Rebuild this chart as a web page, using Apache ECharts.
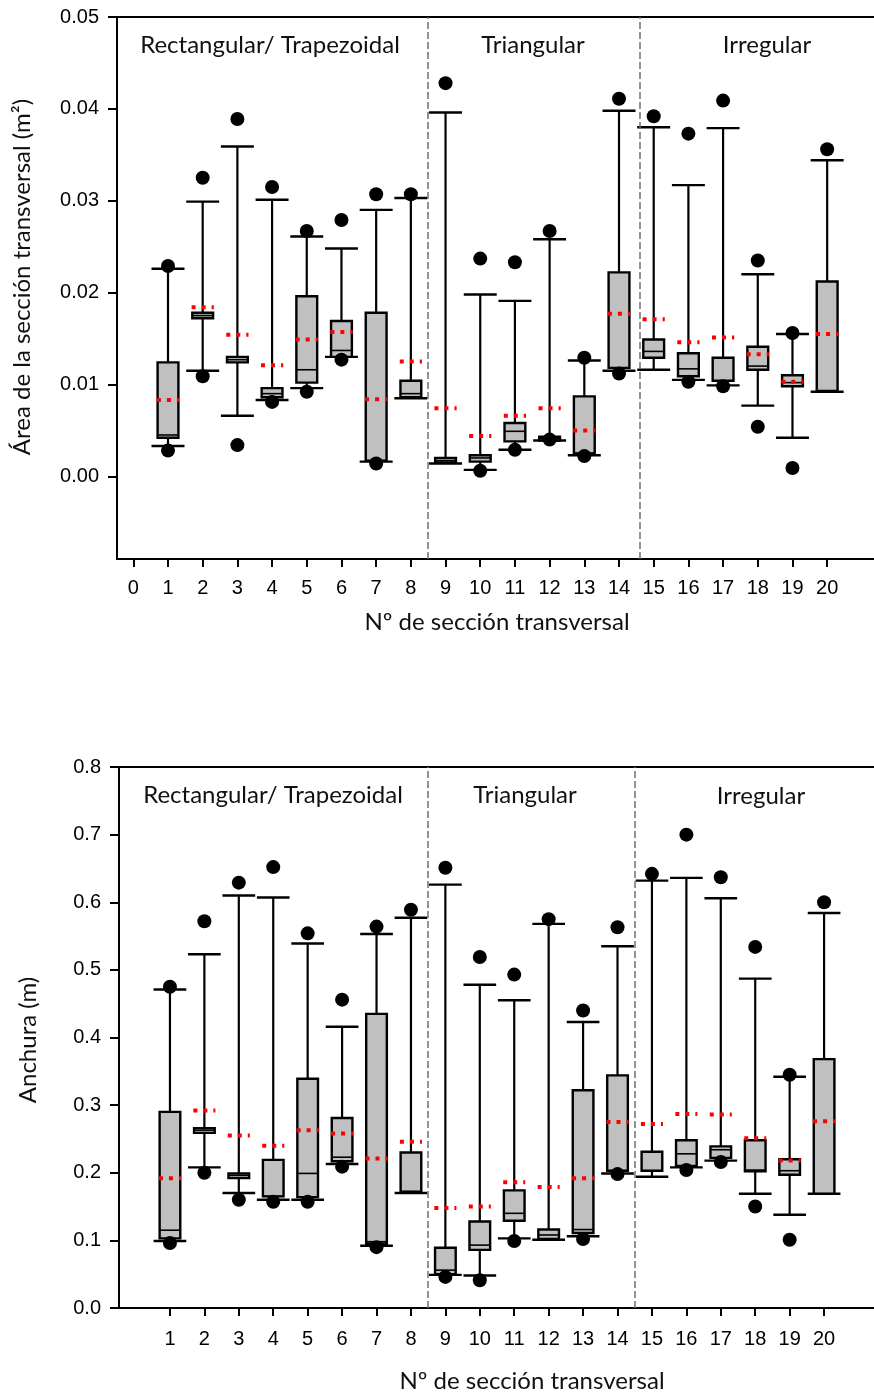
<!DOCTYPE html>
<html><head><meta charset="utf-8">
<script src="https://cdn.jsdelivr.net/npm/echarts@6/dist/echarts.min.js"></script>
<style>html,body{margin:0;padding:0;background:#fff}#c{width:874px;height:1393px}</style>
</head><body><div id="c"></div>
<script>
// ---------- data ----------
const sections = [1,2,3,4,5,6,7,8,9,10,11,12,13,14,15,16,17,18,19,20];
const xTicksTop = [0,1,2,3,4,5,6,7,8,9,10,11,12,13,14,15,16,17,18,19,20];
const xTicksBottom = [1,2,3,4,5,6,7,8,9,10,11,12,13,14,15,16,17,18,19,20];
const areaTicks = [0, 0.01, 0.02, 0.03, 0.04, 0.05];
const widthTicks = [0, 0.1, 0.2, 0.3, 0.4, 0.5, 0.6, 0.7, 0.8];
const groupNames = ['Rectangular/ Trapezoidal', 'Triangular', 'Irregular'];
const areaDividers = [8.5, 14.6];
const widthDividers = [8.5, 14.5];

// Cross-sectional area (m²)
const areaWhiskerLow  = [0.0033,0.0115,0.0066,0.0083,0.0096,0.0130,0.0016,0.0085,0.0014,0.0007,0.0029,0.0039,0.0023,0.0115,0.0116,0.0105,0.0099,0.0077,0.0042,0.0092];
const areaQ1          = [0.0042,0.0172,0.0124,0.0086,0.0102,0.0130,0.0017,0.0086,0.0015,0.0016,0.0038,0.0039,0.0025,0.0118,0.0129,0.0109,0.0104,0.0116,0.0098,0.0093];
const areaMedian      = [0.0045,0.0175,0.0127,0.0090,0.0116,0.0137,0.0017,0.0090,0.0017,0.0020,0.0049,0.0041,0.0025,0.0118,0.0136,0.0117,0.0104,0.0120,0.0102,0.0093];
const areaQ3          = [0.0124,0.0178,0.0130,0.0096,0.0196,0.0169,0.0178,0.0104,0.0020,0.0023,0.0058,0.0043,0.0087,0.0222,0.0149,0.0134,0.0129,0.0141,0.0110,0.0212];
const areaWhiskerHigh = [0.0226,0.0299,0.0359,0.0301,0.0261,0.0248,0.0290,0.0303,0.0396,0.0198,0.0191,0.0258,0.0126,0.0398,0.0380,0.0317,0.0379,0.0220,0.0155,0.0344];
const areaDotLow      = [0.0028,0.0109,0.0034,0.0081,0.0092,0.0127,0.0014,null,null,0.0006,0.0029,0.0040,0.0022,0.0112,null,0.0103,0.0098,0.0054,0.0009,null];
const areaDotHigh     = [0.0229,0.0325,0.0389,0.0315,0.0267,0.0279,0.0307,0.0307,0.0428,0.0237,0.0233,0.0267,0.0129,0.0411,0.0392,0.0373,0.0409,0.0235,0.0156,0.0356];
const areaMean        = [0.0083,0.0184,0.0154,0.0121,0.0149,0.0157,0.0084,0.0125,0.0074,0.0044,0.0066,0.0074,0.0050,0.0177,0.0171,0.0146,0.0151,0.0133,0.0103,0.0155];

// Width (m)
const widthWhiskerLow  = [0.099,0.208,0.170,0.160,0.160,0.213,0.092,0.170,0.049,0.048,0.103,0.101,0.106,0.199,0.194,0.208,0.218,0.169,0.138,0.169];
const widthQ1          = [0.103,0.259,0.192,0.165,0.164,0.217,0.095,0.172,0.050,0.086,0.129,0.102,0.111,0.203,0.203,0.210,0.222,0.202,0.197,0.169];
const widthMedian      = [0.115,0.263,0.196,0.165,0.199,0.223,0.098,0.172,0.056,0.093,0.140,0.108,0.116,0.203,0.203,0.228,0.234,0.204,0.203,0.169];
const widthQ3          = [0.290,0.266,0.199,0.219,0.339,0.281,0.435,0.230,0.089,0.128,0.174,0.116,0.322,0.344,0.231,0.248,0.239,0.248,0.220,0.368];
const widthWhiskerHigh = [0.471,0.523,0.610,0.607,0.539,0.416,0.553,0.577,0.626,0.478,0.455,0.568,0.423,0.535,0.632,0.636,0.606,0.487,0.342,0.584];
const widthDotLow      = [0.096,0.200,0.160,0.157,0.157,0.209,0.090,null,0.046,0.041,0.099,null,0.102,0.198,null,0.204,0.216,0.150,0.101,null];
const widthDotHigh     = [0.475,0.572,0.629,0.652,0.554,0.456,0.564,0.589,0.651,0.519,0.493,0.575,0.440,0.563,0.642,0.700,0.637,0.534,0.345,0.600];
const widthMean        = [0.192,0.292,0.255,0.240,0.263,0.258,0.221,0.246,0.148,0.150,0.186,0.179,0.192,0.275,0.272,0.287,0.286,0.251,0.218,0.276];

// ---------- helpers ----------
function boxData(wl, q1, med, q3, wh, mean) {
  return sections.map((s, i) => [s, wl[i], q1[i], med[i], q3[i], wh[i], mean[i]]);
}
function dotData(arr) {
  const out = [];
  sections.forEach((s, i) => { if (arr[i] != null) out.push([s, arr[i]]); });
  return out;
}
function renderBox(params, api) {
  const x = api.value(0);
  const unit = api.size([1, 0])[0];
  const boxW = unit * 0.6, capW = unit * 0.95, meanW = unit * 0.64;
  const c = v => api.coord([x, v]);
  const pWL = c(api.value(1)), pQ1 = c(api.value(2)), pMed = c(api.value(3)),
        pQ3 = c(api.value(4)), pWH = c(api.value(5)), pMean = c(api.value(6));
  const cx = pWL[0];
  const k = '#000';
  return { type: 'group', children: [
    { type: 'line', shape: { x1: cx, y1: pWL[1], x2: cx, y2: pWH[1] }, style: { stroke: k, lineWidth: 2.2 } },
    { type: 'line', shape: { x1: cx - capW / 2, y1: pWL[1], x2: cx + capW / 2, y2: pWL[1] }, style: { stroke: k, lineWidth: 2.4 } },
    { type: 'line', shape: { x1: cx - capW / 2, y1: pWH[1], x2: cx + capW / 2, y2: pWH[1] }, style: { stroke: k, lineWidth: 2.4 } },
    { type: 'rect', shape: { x: cx - boxW / 2, y: pQ3[1], width: boxW, height: pQ1[1] - pQ3[1] }, style: { fill: '#c0c0c0', stroke: k, lineWidth: 2.4 } },
    { type: 'line', shape: { x1: cx - boxW / 2, y1: pMed[1], x2: cx + boxW / 2, y2: pMed[1] }, style: { stroke: k, lineWidth: 1.6 } },
    { type: 'line', shape: { x1: cx - meanW / 2, y1: pMean[1], x2: cx + meanW / 2, y2: pMean[1] }, style: { stroke: '#ff0000', lineWidth: 4, lineDash: [4, 6] } }
  ]};
}

const tickFont = 'Liberation Sans';
const textFont = 'Lato';
const axisLineStyle = { color: '#000', width: 2 };

function xAxisMain(grid, min, max, ticks, margin) {
  return {
    type: 'value', gridIndex: grid, min: min, max: max, position: 'bottom',
    axisLine: { show: true, onZero: false, lineStyle: axisLineStyle },
    axisTick: { show: true, customValues: ticks, length: 8, lineStyle: axisLineStyle },
    axisLabel: { show: true, customValues: ticks, color: '#000', fontSize: 20, fontFamily: tickFont, margin: margin },
    splitLine: { show: false }
  };
}
function xAxisTop(grid, min, max) {
  return {
    type: 'value', gridIndex: grid, min: min, max: max, position: 'top',
    axisLine: { show: true, onZero: false, lineStyle: axisLineStyle },
    axisTick: { show: false }, axisLabel: { show: false }, splitLine: { show: false }
  };
}
function yAxisMain(grid, min, max, ticks, dec) {
  return {
    type: 'value', gridIndex: grid, min: min, max: max,
    axisLine: { show: true, onZero: false, lineStyle: axisLineStyle },
    axisTick: { show: true, customValues: ticks, length: 9, lineStyle: axisLineStyle },
    axisLabel: { show: true, customValues: ticks, color: '#000', fontSize: 20, fontFamily: tickFont, margin: 18,
                 formatter: v => Number(v).toFixed(dec) },
    splitLine: { show: false }
  };
}
function dividerLine(vals) {
  return {
    silent: true, symbol: ['none', 'none'], animation: false,
    label: { show: false },
    lineStyle: { color: '#707070', type: [7, 3], width: 1.5 },
    data: vals.map(v => ({ xAxis: v }))
  };
}
function txt(x, y, text, rot) {
  const o = { type: 'text', x: x, y: y, style: { text: text, font: '24px ' + textFont, fill: '#111', textAlign: 'center', textVerticalAlign: 'middle' } };
  if (rot) o.rotation = Math.PI / 2;
  return o;
}

const chart = echarts.init(document.getElementById('c'), null, { renderer: 'canvas' });
chart.setOption({
  animation: false,
  backgroundColor: '#fff',
  grid: [
    { left: 117, top: 17, width: 757, height: 542 },
    { left: 119, top: 767, width: 755, height: 541 }
  ],
  xAxis: [
    xAxisMain(0, -0.47, 21.35, xTicksTop, 19),
    xAxisTop(0, -0.47, 21.35),
    xAxisMain(1, -0.48, 21.45, xTicksBottom, 21),
    xAxisTop(1, -0.48, 21.45)
  ],
  yAxis: [
    yAxisMain(0, -0.009, 0.05, areaTicks, 2),
    yAxisMain(1, 0, 0.8, widthTicks, 1)
  ],
  series: [
    { type: 'custom', xAxisIndex: 0, yAxisIndex: 0, z: 2,
      data: boxData(areaWhiskerLow, areaQ1, areaMedian, areaQ3, areaWhiskerHigh, areaMean),
      encode: { x: 0, y: [1, 2, 3, 4, 5, 6] }, renderItem: renderBox,
      markLine: dividerLine(areaDividers) },
    { type: 'scatter', xAxisIndex: 0, yAxisIndex: 0, z: 3, symbol: 'circle', symbolSize: 14,
      itemStyle: { color: '#000', opacity: 1 }, data: dotData(areaDotLow).concat(dotData(areaDotHigh)) },
    { type: 'custom', xAxisIndex: 2, yAxisIndex: 1, z: 2,
      data: boxData(widthWhiskerLow, widthQ1, widthMedian, widthQ3, widthWhiskerHigh, widthMean),
      encode: { x: 0, y: [1, 2, 3, 4, 5, 6] }, renderItem: renderBox,
      markLine: dividerLine(widthDividers) },
    { type: 'scatter', xAxisIndex: 2, yAxisIndex: 1, z: 3, symbol: 'circle', symbolSize: 14,
      itemStyle: { color: '#000', opacity: 1 }, data: dotData(widthDotLow).concat(dotData(widthDotHigh)) }
  ],
  graphic: [
    txt(270, 45, groupNames[0]),
    txt(533, 45, groupNames[1]),
    txt(767, 45, groupNames[2]),
    txt(273, 795, groupNames[0]),
    txt(525, 795, groupNames[1]),
    txt(761, 796, groupNames[2]),
    txt(497, 622, 'Nº de sección transversal'),
    txt(532, 1381, 'Nº de sección transversal'),
    txt(22, 277, 'Área de la sección transversal (m²)', true),
    txt(28, 1040, 'Anchura (m)', true)
  ]
});
</script></body></html>
